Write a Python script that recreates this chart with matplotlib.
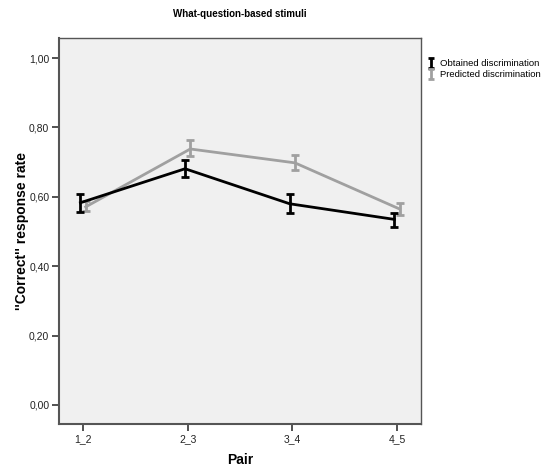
import matplotlib
matplotlib.use("Agg")
import matplotlib.pyplot as plt
import numpy as np
from matplotlib.path import Path
from matplotlib.lines import Line2D

plt.rcParams['font.family'] = ['Liberation Sans', 'DejaVu Sans']

pairs = ["1_2", "2_3", "3_4", "4_5"]
obtained = [0.583, 0.681, 0.580, 0.535]
obtained_lo = [0.557, 0.658, 0.552, 0.514]
obtained_hi = [0.607, 0.707, 0.609, 0.554]
predicted = [0.571, 0.738, 0.698, 0.565]
predicted_lo = [0.558, 0.717, 0.676, 0.549]
predicted_hi = [0.587, 0.763, 0.722, 0.581]
yticks = [0.0, 0.2, 0.4, 0.6, 0.8, 1.0]
ytick_labels = ["0,00", "0,20", "0,40", "0,60", "0,80", "1,00"]

W, H = 542, 468
fig = plt.figure(figsize=(W/100, H/100), dpi=100)
ax = fig.add_axes([59/W, 1-424/H, (421-59)/W, (424-38)/H])
ax.set_facecolor('#f0f0f0')

x = np.arange(len(pairs))
dx = 0.025
grey = '#a0a0a0'

def draw(xs, y, lo, hi, color, z):
    y = np.array(y); lo = np.array(lo); hi = np.array(hi)
    ax.plot(xs, y, color=color, lw=2, zorder=z, solid_joinstyle='miter')
    ax.errorbar(xs, y, yerr=[y-lo, hi-y], fmt='none', ecolor=color,
                elinewidth=2, capsize=3, capthick=2, zorder=z)

draw(x+dx, predicted, predicted_lo, predicted_hi, grey, 2)
draw(x-dx, obtained, obtained_lo, obtained_hi, 'black', 3)

ax.set_xlim(-0.23, 3.23)
ax.set_ylim(-0.055, 1.058)
ax.set_xticks(x)
ax.set_xticklabels(pairs, fontsize=7.5)
ax.set_yticks(yticks)
ax.set_yticklabels(ytick_labels, fontsize=7.5)
ax.tick_params(direction='out', length=5, width=1.2, pad=2, colors='#333333', labelcolor='#222222')
for s in ax.spines.values():
    s.set_color('#555555')
    s.set_linewidth(1.0)
ax.spines['left'].set_linewidth(1.5)
ax.spines['bottom'].set_linewidth(1.5)

ax.set_xlabel("Pair", fontsize=10, fontweight='bold', labelpad=7)
ax.set_ylabel("''Correct'' response rate", fontsize=10, fontweight='bold')
ax.yaxis.set_label_coords(-0.084, 0.5)
fig.text(240/W, 1-14/H, "What-question-based stimuli", ha='center', va='center',
         fontsize=7, fontweight='bold')

ibar = Path([(0, -1), (0, 1), (-0.55, 1), (0.55, 1), (-0.55, -1), (0.55, -1)],
            [Path.MOVETO, Path.LINETO, Path.MOVETO, Path.LINETO, Path.MOVETO, Path.LINETO])
handles = [Line2D([], [], linestyle='none', marker=ibar, markersize=7,
                  markeredgewidth=2, color='black'),
           Line2D([], [], linestyle='none', marker=ibar, markersize=7,
                  markeredgewidth=2, color=grey)]
fig.legend(handles, ["Obtained discrimination", "Predicted discrimination"],
           loc='upper left', bbox_to_anchor=(428/W, 1-59/H), frameon=False,
           fontsize=6.8, handlelength=0.6, handletextpad=0.7, labelspacing=0.2,
           borderpad=0, borderaxespad=0)

fig.savefig("out.png", dpi=100)
